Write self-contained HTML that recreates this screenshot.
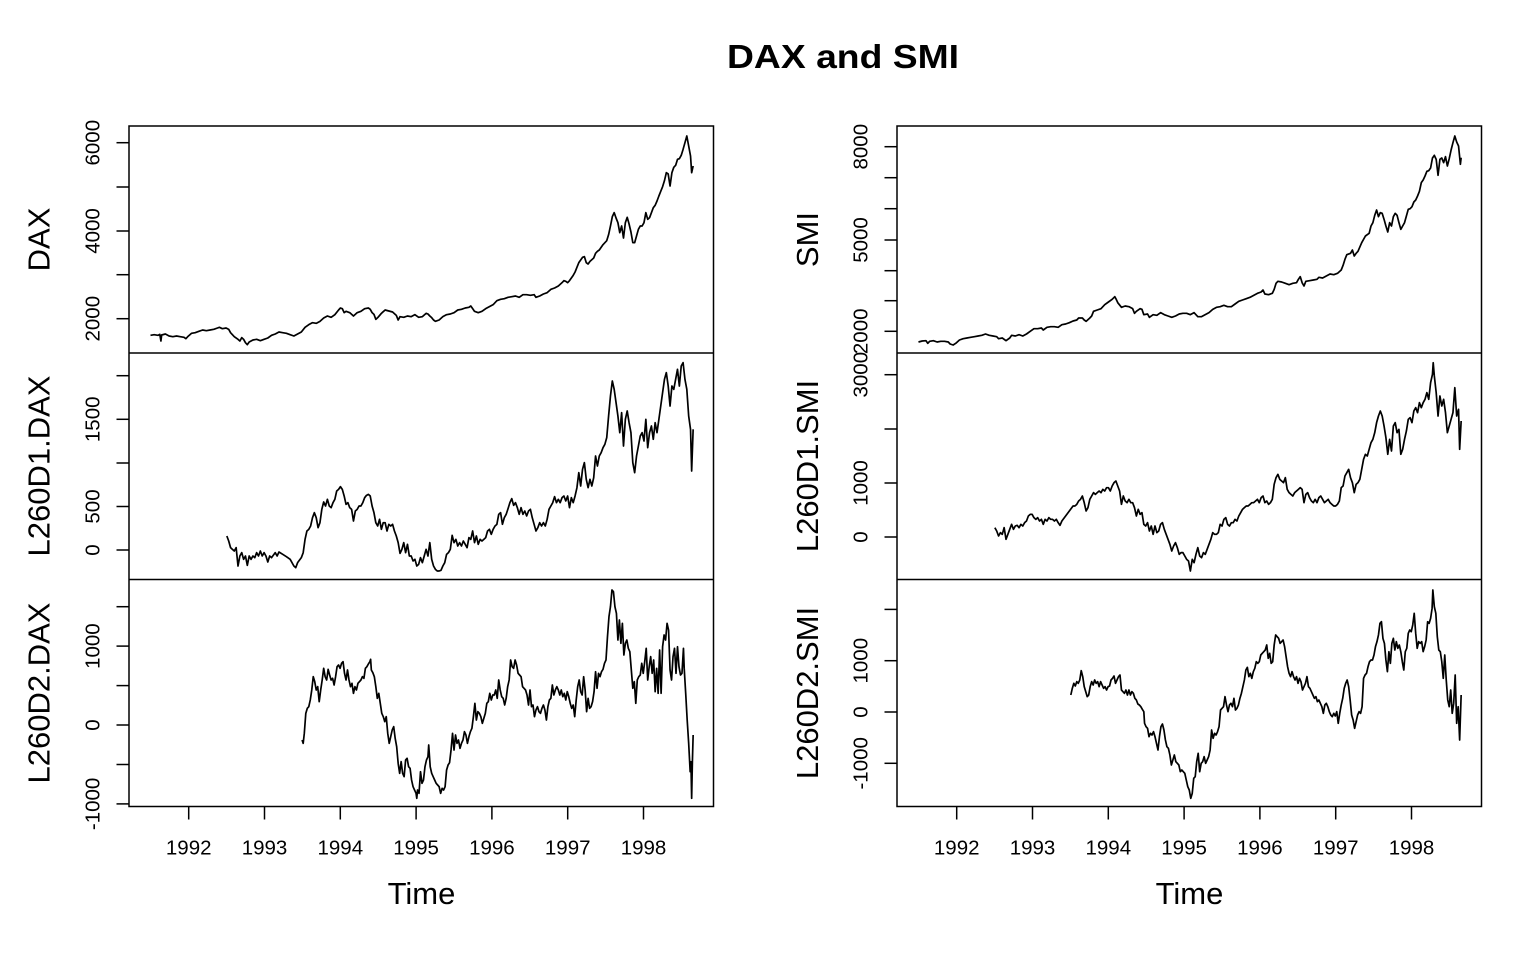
<!DOCTYPE html>
<html>
<head>
<meta charset="utf-8">
<style>
html,body{margin:0;padding:0;background:#fff;}
svg{display:block;}
text{font-family:"Liberation Sans",Arial,sans-serif;fill:#000;}
.tk{font-size:20.5px;}
.lab{font-size:31px;}
.frame{fill:none;stroke:#000;stroke-width:1.5;}
.tick{stroke:#000;stroke-width:1.5;}
.ser{fill:none;stroke:#000;stroke-width:1.7;stroke-linejoin:round;}
</style>
</head>
<body>
<svg width="1536" height="960" viewBox="0 0 1536 960" xmlns="http://www.w3.org/2000/svg">
<rect width="1536" height="960" fill="#fff"/>
<text x="843" y="68" text-anchor="middle" style="font-size:33px;font-weight:bold" textLength="232" lengthAdjust="spacingAndGlyphs">DAX and SMI</text>

<!-- LEFT COLUMN FRAME -->
<rect class="frame" x="129" y="126" width="584.5" height="680.5"/>
<line class="tick" x1="129" y1="353" x2="713.5" y2="353"/>
<line class="tick" x1="129" y1="579.5" x2="713.5" y2="579.5"/>

<!-- RIGHT COLUMN FRAME -->
<rect class="frame" x="897" y="126" width="584.5" height="680.5"/>
<line class="tick" x1="897" y1="353" x2="1481.5" y2="353"/>
<line class="tick" x1="897" y1="579.5" x2="1481.5" y2="579.5"/>

<!-- X TICKS -->
<g class="tick">
<line x1="188.7" y1="806.5" x2="188.7" y2="819.5"/>
<line x1="264.5" y1="806.5" x2="264.5" y2="819.5"/>
<line x1="340.3" y1="806.5" x2="340.3" y2="819.5"/>
<line x1="416.1" y1="806.5" x2="416.1" y2="819.5"/>
<line x1="491.9" y1="806.5" x2="491.9" y2="819.5"/>
<line x1="567.7" y1="806.5" x2="567.7" y2="819.5"/>
<line x1="643.5" y1="806.5" x2="643.5" y2="819.5"/>
<line x1="956.7" y1="806.5" x2="956.7" y2="819.5"/>
<line x1="1032.5" y1="806.5" x2="1032.5" y2="819.5"/>
<line x1="1108.3" y1="806.5" x2="1108.3" y2="819.5"/>
<line x1="1184.1" y1="806.5" x2="1184.1" y2="819.5"/>
<line x1="1259.9" y1="806.5" x2="1259.9" y2="819.5"/>
<line x1="1335.7" y1="806.5" x2="1335.7" y2="819.5"/>
<line x1="1411.5" y1="806.5" x2="1411.5" y2="819.5"/>
</g>
<g class="tk" text-anchor="middle">
<text x="188.7" y="854.5">1992</text>
<text x="264.5" y="854.5">1993</text>
<text x="340.3" y="854.5">1994</text>
<text x="416.1" y="854.5">1995</text>
<text x="491.9" y="854.5">1996</text>
<text x="567.7" y="854.5">1997</text>
<text x="643.5" y="854.5">1998</text>
<text x="956.7" y="854.5">1992</text>
<text x="1032.5" y="854.5">1993</text>
<text x="1108.3" y="854.5">1994</text>
<text x="1184.1" y="854.5">1995</text>
<text x="1259.9" y="854.5">1996</text>
<text x="1335.7" y="854.5">1997</text>
<text x="1411.5" y="854.5">1998</text>
</g>
<text class="lab" x="421.5" y="904" text-anchor="middle">Time</text>
<text class="lab" x="1189.5" y="904" text-anchor="middle">Time</text>

<!-- Y TICKS -->
<g class="tick">
<line x1="116.5" y1="318.7" x2="129" y2="318.7"/>
<line x1="116.5" y1="274.7" x2="129" y2="274.7"/>
<line x1="116.5" y1="231" x2="129" y2="231"/>
<line x1="116.5" y1="187" x2="129" y2="187"/>
<line x1="116.5" y1="142.7" x2="129" y2="142.7"/>

<line x1="116.5" y1="550" x2="129" y2="550"/>
<line x1="116.5" y1="506.5" x2="129" y2="506.5"/>
<line x1="116.5" y1="463" x2="129" y2="463"/>
<line x1="116.5" y1="419.3" x2="129" y2="419.3"/>
<line x1="116.5" y1="375.7" x2="129" y2="375.7"/>

<line x1="116.5" y1="803.9" x2="129" y2="803.9"/>
<line x1="116.5" y1="764.5" x2="129" y2="764.5"/>
<line x1="116.5" y1="725" x2="129" y2="725"/>
<line x1="116.5" y1="685.6" x2="129" y2="685.6"/>
<line x1="116.5" y1="646.1" x2="129" y2="646.1"/>
<line x1="116.5" y1="606.7" x2="129" y2="606.7"/>

<line x1="884.5" y1="331.3" x2="897" y2="331.3"/>
<line x1="884.5" y1="300.7" x2="897" y2="300.7"/>
<line x1="884.5" y1="270.7" x2="897" y2="270.7"/>
<line x1="884.5" y1="240" x2="897" y2="240"/>
<line x1="884.5" y1="208.7" x2="897" y2="208.7"/>
<line x1="884.5" y1="177.7" x2="897" y2="177.7"/>
<line x1="884.5" y1="146.7" x2="897" y2="146.7"/>

<line x1="884.5" y1="537" x2="897" y2="537"/>
<line x1="884.5" y1="483" x2="897" y2="483"/>
<line x1="884.5" y1="429" x2="897" y2="429"/>
<line x1="884.5" y1="374.7" x2="897" y2="374.7"/>

<line x1="884.5" y1="763.3" x2="897" y2="763.3"/>
<line x1="884.5" y1="712" x2="897" y2="712"/>
<line x1="884.5" y1="660.7" x2="897" y2="660.7"/>
<line x1="884.5" y1="609.4" x2="897" y2="609.4"/>
</g>

<g class="tk" text-anchor="middle">
<text transform="translate(99.5,318.7) rotate(-90)">2000</text>
<text transform="translate(99.5,231) rotate(-90)">4000</text>
<text transform="translate(99.5,142.7) rotate(-90)">6000</text>
<text transform="translate(99.5,550) rotate(-90)">0</text>
<text transform="translate(99.5,506.5) rotate(-90)">500</text>
<text transform="translate(99.5,419.3) rotate(-90)">1500</text>
<text transform="translate(99.5,803.9) rotate(-90)">-1000</text>
<text transform="translate(99.5,725) rotate(-90)">0</text>
<text transform="translate(99.5,646.1) rotate(-90)">1000</text>

<text transform="translate(867.5,331.3) rotate(-90)">2000</text>
<text transform="translate(867.5,240) rotate(-90)">5000</text>
<text transform="translate(867.5,146.7) rotate(-90)">8000</text>
<text transform="translate(867.5,537) rotate(-90)">0</text>
<text transform="translate(867.5,483) rotate(-90)">1000</text>
<text transform="translate(867.5,374.7) rotate(-90)">3000</text>
<text transform="translate(867.5,763.3) rotate(-90)">-1000</text>
<text transform="translate(867.5,712) rotate(-90)">0</text>
<text transform="translate(867.5,660.7) rotate(-90)">1000</text>
</g>

<g class="lab" text-anchor="middle">
<text transform="translate(49.5,239.5) rotate(-90)">DAX</text>
<text transform="translate(49.5,466) rotate(-90)">L260D1.DAX</text>
<text transform="translate(49.5,693) rotate(-90)">L260D2.DAX</text>
<text transform="translate(818,239.5) rotate(-90)">SMI</text>
<text transform="translate(818,466) rotate(-90)">L260D1.SMI</text>
<text transform="translate(818,693) rotate(-90)">L260D2.SMI</text>
</g>

<!-- LEFT TOP + MIDDLE SERIES -->
<g transform="translate(130,126) scale(0.37245,0.33333)">
<polyline class="ser" vector-effect="non-scaling-stroke" points="55,628 65,626 75,628 80,625 83,645 85,627 95,624 105,630 115,632 125,630 135,632 145,634 150,638 155,632 165,622 175,620 185,616 195,612 205,614 215,612 225,610 235,606 240,604 248,608 258,606 265,610 270,620 280,632 290,640 295,645 300,635 305,640 310,650 315,656 320,648 330,642 340,640 350,644 360,640 370,636 380,628 390,624 400,618 410,620 420,622 430,626 440,630 450,624 460,618 470,604 480,596 490,590 500,592 510,586 520,576 530,570 540,574 550,566 560,552 565,546 570,548 575,560 580,556 590,560 600,570 610,560 620,556 630,548 640,546 645,550 650,560 655,565 660,580 665,575 675,562 685,552 695,555 705,558 715,568 720,582 725,572 735,574 745,570 755,572 765,566 775,574 785,572 795,562 800,564 805,570 810,575 815,582 820,586 830,582 840,572 850,566 860,564 870,560 880,552 890,550 900,546 910,544 915,540 920,548 925,556 935,560 945,556 955,548 965,542 975,536 985,524 995,520 1005,518 1015,514 1025,512 1035,510 1045,514 1055,506 1065,506 1075,508 1085,506 1090,514 1100,510 1110,504 1120,500 1130,490 1140,486 1150,480 1160,470 1165,464 1170,466 1175,470 1180,464 1190,448 1195,438 1200,424 1205,410 1215,394 1220,392 1225,410 1230,414 1235,406 1245,396 1250,382 1255,376 1260,372 1270,356 1280,344 1285,326 1290,300 1295,272 1300,260 1305,276 1310,290 1315,320 1320,300 1325,336 1330,290 1335,274 1340,294 1345,318 1350,350 1355,350 1360,330 1365,310 1370,300 1375,300 1380,290 1385,260 1390,280 1395,275 1400,260 1405,245 1410,238 1415,225 1420,210 1425,196 1430,182 1435,164 1440,140 1445,144 1450,180 1455,140 1460,124 1465,118 1470,100 1475,98 1480,88 1485,70 1490,50 1495,30 1500,60 1505,90 1508,140 1512,120"/>
<polyline class="ser" vector-effect="non-scaling-stroke" points="260,1230 265,1245 270,1265 275,1270 280,1275 285,1265 290,1320 295,1290 300,1280 305,1300 310,1290 315,1318 320,1290 325,1300 330,1290 335,1295 340,1280 345,1290 350,1275 355,1290 360,1280 365,1290 370,1308 375,1290 380,1295 390,1280 395,1290 400,1278 410,1285 420,1292 430,1300 440,1320 445,1325 450,1310 460,1295 465,1280 470,1240 475,1215 480,1210 485,1200 490,1175 495,1160 500,1175 505,1205 510,1190 515,1150 520,1128 525,1140 530,1120 535,1140 540,1145 545,1130 550,1120 555,1095 560,1090 565,1082 570,1090 575,1110 580,1135 585,1130 590,1145 595,1150 600,1185 605,1155 610,1150 615,1140 620,1140 625,1130 630,1115 635,1108 640,1105 645,1110 650,1140 655,1160 660,1190 665,1200 670,1180 675,1210 680,1190 685,1190 690,1215 695,1195 700,1200 705,1195 710,1215 715,1230 720,1250 725,1282 730,1270 735,1250 740,1280 745,1255 750,1290 755,1290 760,1305 765,1300 770,1320 775,1315 780,1295 785,1310 790,1290 795,1270 800,1290 805,1250 810,1300 815,1320 820,1330 825,1335 830,1335 835,1333 840,1320 845,1310 850,1285 855,1280 860,1270 865,1228 870,1250 875,1240 880,1260 885,1250 890,1260 895,1245 900,1255 905,1265 910,1235 915,1240 920,1215 925,1250 930,1230 935,1255 940,1240 945,1245 950,1240 955,1235 960,1215 965,1210 970,1225 975,1210 980,1200 985,1195 990,1165 995,1160 1000,1195 1005,1175 1010,1165 1015,1148 1020,1130 1025,1118 1030,1138 1035,1130 1040,1145 1045,1165 1050,1145 1055,1165 1060,1155 1065,1170 1070,1155 1075,1150 1080,1175 1085,1195 1090,1215 1095,1205 1100,1190 1105,1200 1110,1190 1115,1200 1120,1180 1125,1150 1130,1140 1135,1130 1140,1112 1145,1130 1150,1120 1155,1130 1160,1115 1165,1110 1170,1125 1175,1110 1180,1145 1185,1115 1190,1130 1195,1110 1200,1085 1205,1040 1210,1080 1215,1030 1220,1010 1225,1060 1230,1085 1235,1060 1240,1080 1245,1055 1250,990 1255,1020 1260,990 1265,980 1270,965 1275,955 1280,935 1285,870 1290,810 1295,765 1300,790 1305,830 1310,870 1315,920 1320,860 1325,960 1330,880 1335,855 1340,890 1345,920 1350,1010 1355,1040 1360,990 1365,960 1370,930 1375,920 1380,945 1385,880 1390,965 1395,920 1400,900 1405,940 1410,890 1415,920 1420,880 1425,840 1430,800 1435,760 1440,740 1445,780 1450,840 1455,780 1460,790 1465,760 1470,730 1475,780 1480,720 1485,710 1490,760 1495,790 1500,870 1505,910 1508,1035 1512,910"/>
</g>

<!-- LEFT BOTTOM SERIES -->
<g transform="translate(130,580) scale(0.37245,0.33333)">
<polyline class="ser" vector-effect="non-scaling-stroke" points="462,480 465,490 468,460 472,400 476,385 480,380 484,360 488,330 492,290 496,305 500,330 504,320 508,365 512,330 516,300 520,265 524,290 528,300 532,268 536,285 540,300 544,295 548,315 552,290 556,260 560,255 564,265 568,250 572,245 576,280 580,300 584,270 588,300 592,320 596,310 600,340 604,320 608,330 612,310 616,305 620,300 624,290 628,295 632,265 636,260 640,252 644,245 646,238 648,270 652,278 656,290 660,320 664,355 668,340 672,370 676,400 680,410 684,425 688,410 692,460 696,490 700,470 704,450 708,440 712,475 716,500 720,550 724,580 728,545 732,580 736,590 740,540 744,535 748,560 752,565 756,600 760,620 764,630 768,640 770,655 772,630 776,640 780,575 784,610 788,600 792,560 796,540 800,530 802,495 806,560 810,580 814,590 818,600 822,610 826,615 830,620 834,640 838,625 842,630 846,620 850,570 854,555 858,548 862,510 866,460 870,510 874,465 878,490 882,480 886,505 890,490 894,480 898,455 902,465 906,490 910,470 914,455 918,445 922,410 926,370 930,420 934,395 938,400 942,410 946,430 950,415 954,400 958,370 962,365 966,340 970,360 974,345 978,345 982,330 986,355 990,300 994,330 998,350 1002,355 1006,375 1010,355 1014,320 1018,300 1022,240 1026,260 1030,265 1034,240 1038,255 1042,280 1046,285 1050,290 1054,320 1058,325 1062,330 1066,345 1070,375 1074,330 1078,380 1082,375 1086,410 1090,390 1094,380 1098,395 1102,400 1106,385 1110,375 1114,390 1118,420 1122,380 1126,360 1130,355 1134,315 1138,345 1142,330 1146,320 1150,330 1154,345 1158,330 1162,350 1166,340 1170,360 1174,335 1178,350 1182,370 1186,385 1190,375 1194,410 1198,360 1202,320 1206,300 1210,335 1214,345 1218,290 1222,330 1226,395 1230,355 1234,385 1238,380 1242,365 1246,335 1250,275 1254,325 1258,280 1262,290 1266,275 1270,268 1274,250 1278,240 1282,170 1286,110 1290,80 1294,30 1298,35 1302,80 1306,100 1310,180 1314,120 1318,190 1322,130 1326,225 1330,190 1334,180 1338,205 1342,215 1346,270 1350,325 1354,305 1358,370 1362,300 1366,290 1370,285 1374,250 1378,280 1382,245 1386,205 1390,300 1394,260 1398,230 1402,280 1406,240 1410,335 1414,265 1418,340 1422,210 1426,340 1430,200 1434,165 1438,180 1442,130 1446,150 1450,270 1454,300 1458,230 1462,205 1466,280 1470,200 1474,260 1478,285 1482,280 1486,205 1488,265 1492,340 1496,420 1500,490 1504,575 1506,545 1508,655 1510,545 1512,465"/>
</g>

<!-- RIGHT TOP + MIDDLE SERIES -->
<g transform="translate(898,126) scale(0.37245,0.33333)">
<polyline class="ser" vector-effect="non-scaling-stroke" points="55,648 65,645 75,644 80,652 85,646 95,644 105,648 115,646 125,646 135,648 140,654 148,657 155,652 165,642 175,638 185,636 195,634 205,632 215,630 225,628 235,624 245,628 255,630 265,632 270,638 280,636 290,644 300,636 305,628 315,630 325,626 335,630 345,624 355,616 365,608 375,608 385,606 390,612 400,604 410,602 420,602 430,604 440,596 450,594 460,590 470,585 480,582 485,576 495,576 500,582 505,586 515,576 520,570 525,556 535,552 545,548 555,536 565,528 575,520 582,512 585,518 590,530 600,544 610,540 620,542 630,548 635,562 640,556 650,548 655,550 660,566 670,564 675,574 685,566 695,568 705,560 715,566 725,570 735,574 745,570 755,564 765,562 775,562 785,566 795,560 805,572 815,572 825,566 835,560 845,550 855,544 865,542 875,538 885,542 895,542 905,534 915,526 925,522 935,518 945,514 955,508 965,502 975,498 980,492 985,504 995,506 1005,502 1010,490 1015,472 1020,466 1030,468 1040,472 1050,476 1060,472 1070,470 1075,460 1080,452 1085,470 1090,480 1095,466 1105,464 1115,462 1125,460 1130,454 1140,456 1150,450 1160,444 1170,446 1180,442 1190,432 1195,418 1200,400 1205,386 1215,382 1220,372 1225,390 1230,382 1235,376 1245,350 1255,330 1265,322 1270,300 1275,290 1280,268 1285,252 1290,272 1295,260 1300,262 1305,280 1310,300 1315,318 1320,290 1325,300 1330,272 1335,262 1340,268 1345,290 1350,310 1355,300 1360,290 1365,270 1370,250 1375,248 1380,242 1385,228 1390,222 1395,210 1400,196 1405,170 1410,162 1415,150 1420,136 1425,134 1430,126 1435,96 1440,88 1445,100 1450,148 1455,100 1460,96 1465,110 1470,92 1475,120 1480,98 1485,72 1490,50 1495,30 1500,48 1505,60 1510,115 1512,95"/>
<polyline class="ser" vector-effect="non-scaling-stroke" points="260,1205 265,1215 270,1230 275,1220 280,1225 285,1205 290,1240 295,1225 300,1210 305,1195 310,1210 315,1200 320,1198 325,1205 330,1195 335,1200 340,1190 345,1185 350,1170 355,1165 360,1165 365,1175 370,1180 375,1175 380,1185 385,1180 390,1195 395,1180 400,1185 405,1175 410,1180 415,1180 420,1185 425,1180 430,1190 435,1198 440,1185 450,1170 460,1155 470,1140 475,1140 480,1135 485,1125 490,1120 495,1110 500,1130 505,1155 510,1145 515,1120 520,1110 525,1100 530,1105 535,1100 540,1095 545,1100 550,1090 555,1095 560,1085 565,1085 570,1095 575,1080 580,1070 585,1065 590,1080 595,1095 600,1135 605,1110 610,1125 615,1130 620,1120 625,1130 630,1130 635,1145 640,1170 645,1150 650,1165 655,1160 660,1195 665,1200 670,1190 675,1215 680,1200 685,1225 690,1200 695,1220 700,1215 705,1195 710,1190 715,1210 720,1225 725,1240 730,1255 735,1275 740,1260 745,1250 750,1265 755,1285 760,1280 765,1280 770,1290 775,1300 780,1305 785,1335 790,1300 795,1310 800,1285 805,1265 810,1290 815,1295 820,1280 825,1285 830,1270 835,1255 840,1240 845,1220 850,1225 855,1225 860,1220 865,1195 870,1200 875,1180 880,1175 885,1195 890,1200 895,1190 900,1190 905,1180 910,1185 915,1170 920,1160 925,1150 930,1145 935,1140 940,1140 945,1135 950,1130 955,1130 960,1125 965,1120 970,1130 975,1115 980,1110 985,1130 990,1125 995,1135 1000,1130 1005,1120 1010,1075 1015,1055 1020,1045 1025,1060 1030,1065 1035,1070 1040,1055 1045,1090 1050,1100 1055,1105 1060,1110 1065,1100 1070,1095 1075,1090 1080,1085 1085,1090 1090,1130 1095,1105 1100,1100 1105,1115 1110,1125 1115,1130 1120,1120 1125,1130 1130,1115 1135,1110 1140,1120 1145,1130 1150,1125 1155,1120 1160,1130 1165,1135 1170,1140 1175,1140 1180,1135 1185,1125 1190,1085 1195,1080 1200,1050 1205,1040 1210,1030 1215,1055 1220,1070 1225,1100 1230,1075 1235,1070 1240,1060 1245,1030 1250,1000 1255,985 1260,990 1265,970 1270,950 1275,940 1280,920 1285,890 1290,870 1295,855 1300,870 1305,900 1310,935 1315,985 1320,940 1325,975 1330,900 1335,890 1340,920 1345,910 1350,985 1355,970 1360,940 1365,915 1370,880 1375,875 1380,890 1385,855 1390,845 1395,860 1400,830 1405,845 1410,830 1415,820 1420,800 1425,820 1430,770 1435,745 1437,710 1440,750 1445,800 1450,870 1455,810 1460,840 1465,820 1470,860 1475,920 1480,900 1485,880 1490,860 1495,785 1500,870 1505,850 1508,970 1512,885"/>
</g>

<!-- RIGHT BOTTOM SERIES -->
<g transform="translate(898,580) scale(0.37245,0.33333)">
<polyline class="ser" vector-effect="non-scaling-stroke" points="464,345 468,325 472,310 476,318 480,305 484,310 488,300 492,272 496,290 500,320 504,335 508,350 512,345 516,320 520,305 524,315 528,300 532,310 536,305 540,320 544,305 548,315 552,325 556,320 560,330 564,320 568,318 572,300 576,295 580,288 584,310 588,300 592,290 596,285 600,330 604,335 608,340 612,330 616,345 620,330 624,345 628,335 632,340 636,355 640,360 644,372 648,375 652,380 656,388 660,395 662,430 666,440 670,445 674,470 678,460 682,465 686,455 690,470 694,490 698,510 702,470 706,440 710,432 714,450 718,480 722,500 726,505 730,525 734,555 738,540 742,525 746,545 750,550 754,555 758,575 762,570 766,575 770,580 774,600 778,620 782,630 786,655 790,640 794,595 798,590 802,545 806,520 810,575 814,550 818,545 822,530 826,550 830,540 834,530 838,510 842,450 846,475 850,460 854,465 858,455 862,440 866,390 870,385 874,380 878,350 882,375 886,395 890,375 894,370 898,380 902,355 906,390 910,385 914,375 918,355 922,340 926,320 930,300 934,270 938,262 942,290 946,280 950,295 954,275 958,265 962,245 966,250 970,245 974,225 978,220 982,215 986,210 990,195 994,235 998,220 1002,250 1006,245 1010,195 1014,165 1018,170 1022,175 1026,190 1030,185 1034,180 1038,200 1042,230 1046,260 1050,280 1054,290 1058,275 1062,290 1066,300 1070,290 1074,310 1078,295 1082,305 1086,330 1090,320 1094,310 1098,290 1102,320 1106,325 1110,335 1114,345 1118,355 1122,350 1126,365 1130,360 1134,370 1138,380 1142,400 1146,375 1150,370 1154,380 1158,395 1162,405 1166,410 1170,400 1174,408 1178,395 1182,430 1186,400 1190,375 1194,355 1198,325 1202,310 1206,300 1210,320 1214,360 1218,405 1222,420 1226,445 1230,425 1234,405 1238,395 1242,400 1246,380 1250,295 1254,285 1258,280 1262,260 1266,245 1270,240 1274,240 1278,225 1282,200 1286,185 1290,165 1294,130 1298,125 1302,175 1306,190 1310,240 1314,275 1318,215 1322,250 1326,190 1330,175 1334,210 1338,185 1342,205 1346,195 1350,215 1354,245 1358,270 1362,215 1366,205 1370,160 1374,150 1378,155 1382,135 1386,100 1390,160 1394,205 1398,185 1402,190 1406,185 1410,215 1414,200 1418,180 1422,125 1426,130 1430,115 1434,85 1436,30 1440,80 1444,100 1448,170 1452,210 1456,215 1460,245 1464,295 1468,225 1472,300 1476,360 1480,380 1484,330 1488,400 1492,370 1496,285 1500,430 1504,380 1508,480 1512,345"/>
</g>
</svg>
</body>
</html>
